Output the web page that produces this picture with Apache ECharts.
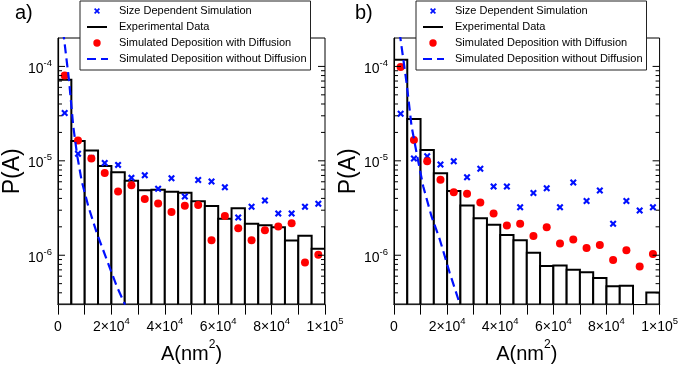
<!DOCTYPE html>
<html>
<head>
<meta charset="utf-8">
<script src="https://cdn.jsdelivr.net/npm/echarts@6/dist/echarts.min.js"></script>
<style>
  html, body { margin: 0; padding: 0; background: #fff; }
  #chart { width: 681px; height: 369px; }
</style>
</head>
<body>
<div id="chart"></div>
<script>
// bins of the measured histogram (nm^2)
const binStart = [0, 5000, 10000, 15000, 20000, 25000, 30000, 35000, 40000, 45000, 50000,
  55000, 60000, 65000, 70000, 75000, 80000, 85000, 90000, 95000, 100000];
const binEnd = [5000, 10000, 15000, 20000, 25000, 30000, 35000, 40000, 45000, 50000, 55000,
  60000, 65000, 70000, 75000, 80000, 85000, 90000, 95000, 100000, 105000];
const binCenter = [2500, 7500, 12500, 17500, 22500, 27500, 32500, 37500, 42500, 47500,
  52500, 57500, 62500, 67500, 72500, 77500, 82500, 87500, 92500, 97500];

// panel a)
const expA = [7.22e-5, 1.62e-5, 1.29e-5, 8.83e-6, 7.56e-6, 6.17e-6, 4.87e-6, 4.95e-6, 4.69e-6, 4.6e-6,
  3.72e-6, 3.33e-6, 2.43e-6, 3.14e-6, 2.15e-6, 2.08e-6, 1.98e-6, 1.43e-6, 1.61e-6, 1.17e-6, 1.98e-6];
const sizeDepA = [3.21e-5, 1.19e-5, 1.07e-5, 9.5e-6, 9.06e-6, 6.6e-6, 7.03e-6, 5.05e-6, 6.53e-6, 4.2e-6,
  6.28e-6, 6.03e-6, 5.25e-6, 2.51e-6, 3.27e-6, 3.79e-6, 2.77e-6, 2.77e-6, 3.27e-6, 3.51e-6];
const withDiffA = [8.03e-5, 1.64e-5, 1.06e-5, 7.45e-6, 4.72e-6, 5.5e-6, 3.95e-6, 3.53e-6, 2.87e-6, 3.34e-6,
  3.41e-6, 1.44e-6, 2.6e-6, 1.93e-6, 1.44e-6, 1.84e-6, 2.01e-6, 2.18e-6, 8.4e-7, 1.01e-6];
const noDiffAx = [1900, 4120, 5730, 7230, 8880, 11350, 14500, 18240, 21990, 25100];
const noDiffAy = [2.4e-4, 7.2e-5, 2.3e-5, 1.12e-5, 6.1e-6, 3.3e-6, 1.73e-6, 9.0e-7, 4.7e-7, 3.0e-7];

// panel b)
const expB = [1.18e-4, 2.77e-5, 1.30e-5, 7.38e-6, 4.8e-6, 3.36e-6, 2.47e-6, 2.1e-6, 1.64e-6, 1.44e-6,
  1.06e-6, 7.7e-7, 7.8e-7, 7.0e-7, 6.6e-7, 5.75e-7, 4.68e-7, 4.76e-7, null, 4.03e-7, null];
const sizeDepB = [3.16e-5, 1.06e-5, 1.12e-5, 9.12e-6, 9.9e-6, 6.69e-6, 8.26e-6, 5.35e-6, 5.35e-6, 3.22e-6,
  4.57e-6, 5.12e-6, 3.22e-6, 5.89e-6, 3.76e-6, 4.84e-6, 2.15e-6, 3.76e-6, 2.97e-6, 3.22e-6];
const withDiffB = [9.86e-5, 1.66e-5, 9.9e-6, 6.32e-6, 4.65e-6, 4.47e-6, 3.61e-6, 2.77e-6, 2.06e-6, 2.15e-6,
  1.6e-6, 1.98e-6, 1.33e-6, 1.47e-6, 1.19e-6, 1.28e-6, 8.9e-7, 1.13e-6, 7.6e-7, 1.03e-6];
const noDiffBx = [2100, 4745, 6620, 8740, 10990, 14110, 17230, 20970, 24720];
const noDiffBy = [2.3e-4, 6.67e-5, 2.32e-5, 1.12e-5, 5.37e-6, 2.59e-6, 1.47e-6, 6.52e-7, 3.08e-7];

// axis ticks and labels
const xTickValues = [0, 20000, 40000, 60000, 80000, 100000];
const xTickLabels = ['{b|0}', '{b|2×10}{s|4}', '{b|4×10}{s|4}', '{b|6×10}{s|4}', '{b|8×10}{s|4}', '{b|1×10}{s|5}'];
const yMajorTicks = [1e-6, 1e-5, 1e-4];
const yMinorTicks = [4e-7, 5e-7, 6e-7, 7e-7, 8e-7, 9e-7,
  2e-6, 3e-6, 4e-6, 5e-6, 6e-6, 7e-6, 8e-6, 9e-6,
  2e-5, 3e-5, 4e-5, 5e-5, 6e-5, 7e-5, 8e-5, 9e-5];

const names = ['Size Dependent Simulation', 'Experimental Data',
  'Simulated Deposition with Diffusion', 'Simulated Deposition without Diffusion'];

const FONT = '"Liberation Sans", Arial, Helvetica, sans-serif';
const BLUE = '#0010ff';
const RED = '#ff0000';
const X_MIN = 0, X_MAX = 100000, Y_MIN = 3e-7, Y_MAX = 2e-4;

const chart = echarts.init(document.getElementById('chart'));

// thick "x" marker
const xSymbol = 'path://M0,1.3L1.3,0L3,1.7L4.7,0L6,1.3L4.3,3L6,4.7L4.7,6L3,4.3L1.3,6L0,4.7L1.7,3Z';

function yLabel(v) {
  const e = Math.log10(v);
  const r = Math.round(e);
  if (Math.abs(e - r) > 1e-6) return '';
  return '{b|10}{s|' + r + '}';
}

function xLabel(v) {
  const i = xTickValues.indexOf(Math.round(v));
  return i < 0 ? '' : xTickLabels[i];
}

const labelRich = {
  b: { fontSize: 14, fontFamily: FONT, color: '#000', lineHeight: 21 },
  s: { fontSize: 9.5, fontFamily: FONT, color: '#000', verticalAlign: 'top', lineHeight: 9 },
};

function renderBins(params, api) {
  const top = api.coord([api.value(0), api.value(2)]);
  const bot = api.coord([api.value(1), Y_MIN]);
  return {
    type: 'rect',
    shape: { x: top[0], y: top[1], width: bot[0] - top[0], height: bot[1] - top[1] },
    style: { fill: '#fff', stroke: '#000', lineWidth: 2 },
  };
}

function renderTick(params, api) {
  const v = api.value(1);
  const len = api.value(2);
  const l = api.coord([X_MIN, v]);
  const r = api.coord([X_MAX, v]);
  return {
    type: 'group',
    children: [
      { type: 'line', shape: { x1: l[0], y1: l[1], x2: l[0] + len, y2: l[1] }, style: { stroke: '#000', lineWidth: 1 } },
      { type: 'line', shape: { x1: r[0] - len, y1: r[1], x2: r[0], y2: r[1] }, style: { stroke: '#000', lineWidth: 1 } },
    ],
  };
}

function panelSeries(idx, exp, sizeDep, withDiff, ndx, ndy) {
  const bins = [];
  exp.forEach((v, i) => { if (v != null) bins.push([binStart[i], binEnd[i], v]); });
  const ticks = yMajorTicks.map(v => [X_MIN, v, 7]).concat(yMinorTicks.map(v => [X_MIN, v, 4]));
  return [
    {
      name: names[1], type: 'custom', xAxisIndex: idx, yAxisIndex: idx,
      data: bins, encode: { x: [0, 1], y: 2 }, renderItem: renderBins, clip: true,
      itemStyle: { color: '#000' }, silent: true,
    },
    {
      name: names[0], type: 'scatter', xAxisIndex: idx, yAxisIndex: idx,
      data: binCenter.map((c, i) => [c, sizeDep[i]]),
      symbol: xSymbol, symbolSize: 7, itemStyle: { color: BLUE, opacity: 1 }, silent: true,
    },
    {
      name: names[2], type: 'scatter', xAxisIndex: idx, yAxisIndex: idx,
      data: binCenter.map((c, i) => [c, withDiff[i]]),
      symbol: 'circle', symbolSize: 8, itemStyle: { color: RED, opacity: 1 }, silent: true,
    },
    {
      name: names[3], type: 'line', xAxisIndex: idx, yAxisIndex: idx,
      data: ndx.map((x, i) => [x, ndy[i]]),
      symbol: 'none', clip: true, silent: true,
      lineStyle: { color: BLUE, width: 2.2, type: [9, 5] }, itemStyle: { color: BLUE },
    },
    {
      type: 'custom', xAxisIndex: idx, yAxisIndex: idx, silent: true, clip: false,
      data: ticks, renderItem: renderTick, z: 5,
    },
  ];
}

function legendFor(left) {
  return {
    left: left, top: 1, orient: 'vertical',
    padding: [4, 4, 5, 7], itemGap: 4, itemWidth: 27, itemHeight: 8,
    backgroundColor: '#fff', borderColor: '#222', borderWidth: 1, borderRadius: 0,
    selectedMode: false,
    textStyle: { fontSize: 11, fontFamily: FONT, color: '#000', lineHeight: 12 },
    data: [
      { name: names[0], icon: 'path://M0,0M27,8M7,2.2L8.2,1L10,2.8L11.8,1L13,2.2L11.2,4L13,5.8L11.8,7L10,5.2L8.2,7L7,5.8L8.8,4Z',
        itemStyle: { color: BLUE, borderWidth: 0 } },
      { name: names[1], icon: 'path://M0,0M27,8M0,3H20V5H0Z', itemStyle: { color: '#000', borderWidth: 0 } },
      { name: names[2], icon: 'path://M0,0M27,8M6.3,4A3.7,3.7,0,1,1,13.7,4A3.7,3.7,0,1,1,6.3,4Z',
        itemStyle: { color: RED, borderWidth: 0 } },
      { name: names[3], icon: 'path://M0,0M27,8M0,3H9V5H0ZM14,3H21V5H14Z', itemStyle: { color: BLUE, borderWidth: 0 } },
    ],
  };
}

function xAxisFor(idx) {
  return {
    gridIndex: idx, type: 'value', min: X_MIN, max: X_MAX, interval: 10000,
    axisLine: { show: true, onZero: false, lineStyle: { color: '#000', width: 1.2 } },
    axisTick: { show: true, inside: false, length: 10, lineStyle: { color: '#000', width: 1 } },
    splitLine: { show: false },
    axisLabel: { formatter: xLabel, rich: labelRich, margin: 12, showMinLabel: true, showMaxLabel: true },
    name: '{n|A(nm}{s|2}{n|)}', nameLocation: 'middle', nameGap: 34,
    nameTextStyle: {
      rich: {
        n: { fontSize: 20, fontFamily: FONT, color: '#000', lineHeight: 30 },
        s: { fontSize: 12, fontFamily: FONT, color: '#000', verticalAlign: 'top', lineHeight: 12 },
      },
    },
  };
}

function yAxisFor(idx) {
  return {
    gridIndex: idx, type: 'log', logBase: 10, min: Y_MIN, max: Y_MAX,
    axisLine: { show: true, lineStyle: { color: '#000', width: 1.2 } },
    axisTick: { show: false }, minorTick: { show: false }, splitLine: { show: false },
    axisLabel: { formatter: yLabel, rich: labelRich, margin: 6, padding: [5, 0, 0, 0] },
    name: 'P(A)', nameLocation: 'middle', nameGap: 34,
    nameTextStyle: { fontSize: 23, fontFamily: FONT, color: '#000' },
  };
}

const option = {
  animation: false,
  backgroundColor: '#fff',
  textStyle: { fontFamily: FONT },
  title: [
    { text: 'a)', left: 15, top: 3, padding: 0, textStyle: { fontSize: 20, fontWeight: 'normal', fontFamily: FONT, color: '#000' } },
    { text: 'b)', left: 355, top: 3, padding: 0, textStyle: { fontSize: 20, fontWeight: 'normal', fontFamily: FONT, color: '#000' } },
  ],
  legend: [legendFor(80), legendFor(416)],
  grid: [
    { left: 58, top: 38, width: 267, height: 267, show: true, borderColor: '#000', borderWidth: 1 },
    { left: 394, top: 38, width: 267, height: 267, show: true, borderColor: '#000', borderWidth: 1 },
  ],
  xAxis: [xAxisFor(0), xAxisFor(1)],
  yAxis: [yAxisFor(0), yAxisFor(1)],
  series: panelSeries(0, expA, sizeDepA, withDiffA, noDiffAx, noDiffAy)
    .concat(panelSeries(1, expB, sizeDepB, withDiffB, noDiffBx, noDiffBy)),
};

chart.setOption(option);
</script>
</body>
</html>
